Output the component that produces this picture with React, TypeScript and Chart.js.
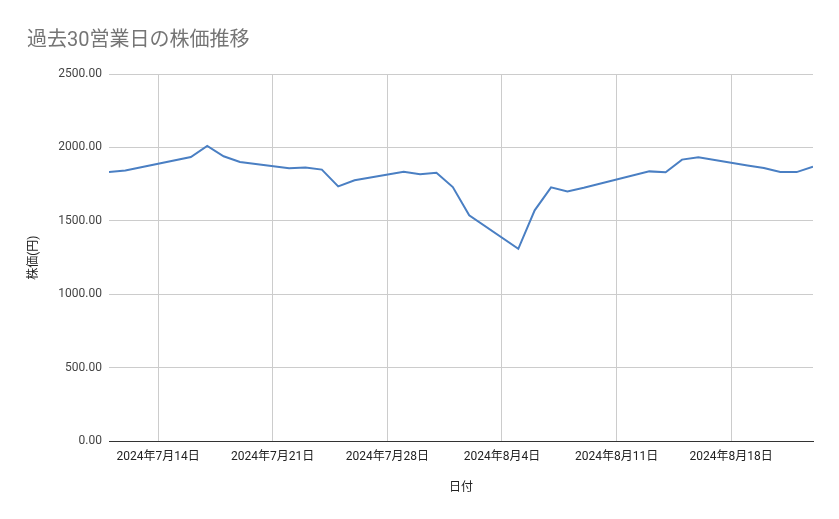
import React, { useEffect, useRef } from "react";
import { Chart, registerables } from "chart.js";

Chart.register(...registerables);

const titleText = "過去30営業日の株価推移";
const yAxisTitle = "株価(円)";
const xAxisTitle = "日付";

const dates = [
  "2024-07-11", "2024-07-12", "2024-07-16", "2024-07-17", "2024-07-18", "2024-07-19",
  "2024-07-22", "2024-07-23", "2024-07-24", "2024-07-25", "2024-07-26",
  "2024-07-29", "2024-07-30", "2024-07-31", "2024-08-01", "2024-08-02",
  "2024-08-05", "2024-08-06", "2024-08-07", "2024-08-08", "2024-08-09",
  "2024-08-13", "2024-08-14", "2024-08-15", "2024-08-16",
  "2024-08-19", "2024-08-20", "2024-08-21", "2024-08-22", "2024-08-23",
];

const prices = [
  1833, 1843, 1935, 2010, 1940, 1901,
  1858, 1863, 1849, 1735, 1776,
  1835, 1818, 1827, 1730, 1538,
  1310, 1572, 1728, 1701, 1726,
  1837, 1831, 1917, 1933,
  1877, 1860, 1833, 1832, 1869,
];

const tickDates = ["2024-07-14", "2024-07-21", "2024-07-28", "2024-08-04", "2024-08-11", "2024-08-18"];
const tickLabels = ["2024年7月14日", "2024年7月21日", "2024年7月28日", "2024年8月4日", "2024年8月11日", "2024年8月18日"];

const yTicks = [0, 500, 1000, 1500, 2000, 2500];

const dayMs = 86400000;
const toDay = (s: string) => {
  const [y, m, d] = s.split("-").map(Number);
  return Date.UTC(y, m - 1, d) / dayMs;
};

export default function App() {
  const ref = useRef<HTMLCanvasElement | null>(null);

  useEffect(() => {
    if (!ref.current) return;
    Chart.defaults.font.family = "Roboto, 'Noto Sans CJK JP', sans-serif";
    const base = toDay(dates[0]);
    const pts = dates.map((d, i) => ({ x: toDay(d) - base, y: prices[i] }));
    const tickVals = tickDates.map((d) => toDay(d) - base);
    const chart = new Chart(ref.current, {
      type: "line",
      data: {
        datasets: [
          {
            data: pts,
            borderColor: "#4a7fc3",
            borderWidth: 2,
            pointRadius: 0,
            tension: 0,
            fill: false,
          },
        ],
      },
      options: {
        responsive: false,
        animation: false,
        devicePixelRatio: 1,
        layout: { padding: { left: 27, right: 26, top: 19, bottom: 24 } },
        plugins: {
          legend: { display: false },
          tooltip: { enabled: false },
          title: {
            display: true,
            text: titleText,
            align: "start",
            color: "#757575",
            font: { size: 20, weight: "normal" },
            padding: { top: 10, bottom: 21 },
          },
        },
        scales: {
          x: {
            type: "linear",
            min: 0,
            max: pts[pts.length - 1].x,
            afterBuildTicks: (scale: any) => {
              scale.ticks = tickVals.map((v) => ({ value: v }));
            },
            ticks: {
              autoSkip: false,
              maxRotation: 0,
              padding: 9,
              color: "#222",
              font: { size: 12 },
              callback: (_v: any, i: number) => tickLabels[i],
            },
            grid: { color: "#cccccc", drawTicks: false },
            border: { display: true, color: "#333333" },
            title: {
              display: true,
              text: xAxisTitle,
              color: "#222",
              font: { size: 12 },
              padding: { top: 7, bottom: 0 },
            },
          },
          y: {
            min: yTicks[0],
            max: yTicks[yTicks.length - 1],
            afterFit: (scale: any) => {
              scale.width = 82;
            },
            afterBuildTicks: (scale: any) => {
              scale.ticks = yTicks.map((v) => ({ value: v }));
            },
            ticks: {
              padding: 7,
              color: "#444",
              font: { size: 12 },
              callback: (v: any) => Number(v).toFixed(2),
            },
            grid: {
              color: (ctx: any) => (ctx.tick && ctx.tick.value === 0 ? "#333333" : "#cccccc"),
              drawTicks: false,
            },
            border: { display: false },
            title: {
              display: true,
              text: yAxisTitle,
              color: "#222",
              font: { size: 12 },
              padding: { top: 0, bottom: 0 },
            },
          },
        },
      },
    });
    return () => chart.destroy();
  }, []);

  return (
    <div style={{ position: "absolute", left: 0, top: 0, width: 839, height: 519, background: "#fff" }}>
      <canvas ref={ref} width={839} height={519} />
    </div>
  );
}
